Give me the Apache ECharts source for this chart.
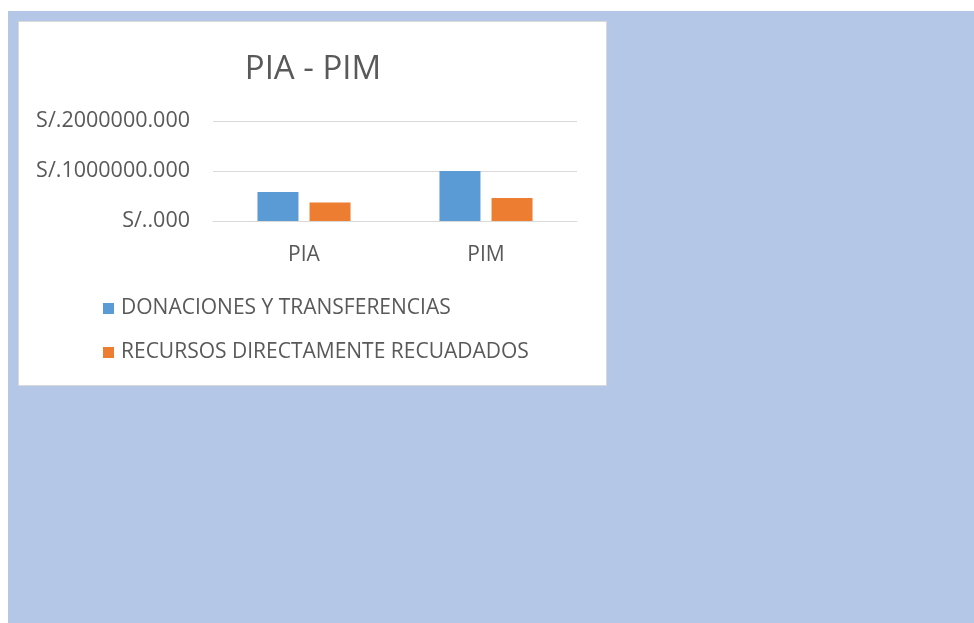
<!DOCTYPE html>
<html><head><meta charset="utf-8">
<script src="https://cdn.jsdelivr.net/npm/echarts@6/dist/echarts.min.js"></script>
<style>html,body{margin:0;padding:0;background:#fff;}#c{width:974px;height:623px;}</style>
</head><body><div id="c"></div>
<script>
const categories = ['PIA', 'PIM'];
const donaciones = [580000, 1000000];
const recursos = [370000, 460000];
const seriesNames = ['DONACIONES Y TRANSFERENCIAS', 'RECURSOS DIRECTAMENTE RECUADADOS'];
const yTicks = [0, 1000000, 2000000];

const chart = echarts.init(document.getElementById('c'), null, {renderer: 'canvas'});
const font = '"Open Sans", sans-serif';
chart.setOption({
  backgroundColor: '#ffffff',
  animation: false,
  graphic: [
    {type: 'rect', z: -10, shape: {x: 8, y: 11, width: 966, height: 612}, style: {fill: '#b4c7e7'}},
    {type: 'rect', z: -9, shape: {x: 18.5, y: 21.5, width: 588, height: 364}, style: {fill: '#ffffff', stroke: '#d9d9d9', lineWidth: 1}}
  ],
  title: {
    text: 'PIA - PIM', left: 308, top: 48, textAlign: 'center',
    textStyle: {fontFamily: font, fontSize: 33, fontWeight: 'normal', color: '#595959'}
  },
  legend: {
    orient: 'vertical', left: 98, top: 293, itemGap: 23,
    itemWidth: 11, itemHeight: 11, icon: 'rect',
    textStyle: {fontFamily: font, fontSize: 21, color: '#595959', padding: [0, 0, 0, 2]},
    data: seriesNames
  },
  grid: {left: 213, right: 974 - 577, top: 121, height: 100, containLabel: false},
  xAxis: {
    type: 'category', data: categories,
    axisLine: {lineStyle: {color: '#d9d9d9'}}, axisTick: {show: false},
    axisLabel: {fontFamily: font, fontSize: 21, color: '#595959', margin: 24}
  },
  yAxis: {
    type: 'value', min: 0, max: 2000000, interval: 1000000,
    axisLine: {show: false}, axisTick: {show: false},
    splitLine: {lineStyle: {color: '#d9d9d9', width: 1}},
    axisLabel: {
      fontFamily: font, fontSize: 21.5, color: '#595959', margin: 23,
      formatter: v => 'S/.' + (v === 0 ? '' : String(v)) + '.000'
    }
  },
  series: [
    {name: seriesNames[0], type: 'bar', data: donaciones, itemStyle: {color: '#5b9bd5'}, barWidth: 41, barGap: '27%'},
    {name: seriesNames[1], type: 'bar', data: recursos, itemStyle: {color: '#ed7d31'}, barWidth: 41, barGap: '27%'}
  ]
});
</script></body></html>
